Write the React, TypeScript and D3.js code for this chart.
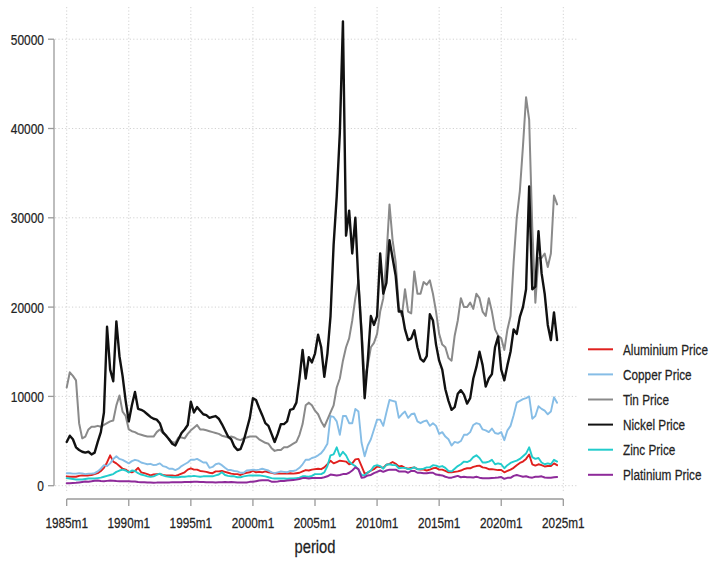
import React from "react";
import * as d3 from "d3";

// Quarterly observations (m1, m4, m7, m10) from 1985m1 to 2024m7
const startYear = 1985;

const aluminium = [
  1050, 1000, 1000, 1000, 1100, 1150, 1150, 1150, 1200, 1300, 1400, 1650,
  2000, 2600, 3400, 2700, 2500, 2200, 1900, 1800, 1550, 1500, 1650, 2000,
  1500, 1400, 1300, 1150, 1250, 1300, 1300, 1200, 1150, 1150, 1150, 1100,
  1200, 1350, 1500, 1800, 1950, 1800, 1800, 1650, 1600, 1550, 1450, 1400,
  1600, 1600, 1650, 1550, 1450, 1350, 1300, 1300, 1200, 1350, 1450, 1500,
  1650, 1500, 1550, 1500, 1600, 1500, 1450, 1350, 1400, 1350, 1350, 1350,
  1400, 1350, 1400, 1450, 1600, 1750, 1700, 1800, 1850, 1900, 1850, 2050,
  2400, 2800, 2500, 2650, 2800, 2750, 2700, 2400, 2500, 2950, 3000, 2200,
  1350, 1450, 1700, 1850, 2150, 2100, 2000, 2350, 2450, 2650, 2450, 2150,
  2200, 2000, 1900, 2000, 2050, 1850, 1800, 1800, 1700, 1800, 1950, 2000,
  1800, 1800, 1650, 1500, 1500, 1550, 1600, 1700, 1850, 1950, 1950, 2100,
  2200, 2250, 2050, 2000, 1850, 1850, 1800, 1750, 1750, 1500, 1650, 1800,
  2000, 2300, 2550, 2700, 3000, 3500, 2400, 2250, 2400, 2300, 2150, 2200,
  2200, 2500, 2300,
];

const copper = [
  1400, 1400, 1350, 1350, 1400, 1380, 1300, 1350, 1350, 1400, 1600, 1900,
  2300, 2200, 2500, 3000, 3300, 3000, 2900, 2700, 2500, 2750, 2900, 2800,
  2600, 2500, 2400, 2450, 2300, 2350, 2500, 2200, 2100, 1900, 1900, 1750,
  1900, 2200, 2400, 2600, 2900, 2900, 3000, 2800, 2600, 2600, 2000, 2100,
  2400, 2500, 2300, 2000, 1750, 1750, 1650, 1600, 1450, 1450, 1700, 1750,
  1800, 1750, 1800, 1900, 1800, 1700, 1500, 1400, 1500, 1600, 1550, 1500,
  1650, 1650, 1750, 2000, 2400, 2900, 2900, 3100, 3200, 3400, 3650, 4100,
  4700, 7800, 7700, 7200, 5700, 7800, 7800, 7000, 7000, 8600, 8300, 4800,
  3300, 4500, 5200, 6300, 7400, 7400, 6700, 8200, 9600, 9500, 9400, 7600,
  8000, 8300, 7600, 8000, 8100, 7200, 7000, 7200, 7300, 6700, 7000, 6700,
  5800, 6000, 5500, 5200, 4500, 4900, 4800, 5000, 5700, 5700, 6000, 6800,
  7000, 6900, 6300, 6200, 6000, 6400, 5900, 5800, 6000, 5100, 6200, 6700,
  7900, 9300, 9500, 9700, 9800, 10000, 7500, 7800, 8900, 8600, 8400, 8000,
  8300, 9900, 9300,
];

const tin = [
  11000, 12700, 12300, 11800, 7000, 5300, 5500, 6300, 6600, 6600, 6700, 6600,
  6800, 7000, 7200, 7300, 9000, 10100, 8300, 7800, 6300, 6100, 6000, 5800,
  5700, 5600, 5500, 5500, 5500, 6000, 6300, 5900, 5700, 5100, 4900, 4800,
  5400, 5400, 5300, 5800, 6200, 6500, 6800, 6300, 6300, 6200, 6100, 6000,
  5900, 5800, 5600, 5500, 5400, 5500, 5400, 5200, 5100, 5300, 5400, 5500,
  5500, 5500, 5200, 5000, 4800, 4700, 4200, 3900, 4000, 4000, 4300, 4300,
  4500, 4700, 4900, 5700, 6900, 9000, 9300, 9000, 8400, 8000, 7200, 6600,
  7400, 8200, 9000, 11000, 12000, 14000, 15500, 16500, 18500, 21000, 23000, 17500,
  12000, 13500, 15500, 16000, 17000, 19500, 21000, 25500, 31500, 27500, 25000, 20000,
  19000, 22000, 19500, 19300, 24000, 21500, 21500, 22800, 22500, 23000, 21500, 19500,
  17000, 15800, 15500, 14300, 14000, 16800, 18500, 21000, 20000, 20000, 20500, 19800,
  21500, 21000, 19500, 19000, 21000, 19500, 17500, 16800, 16500, 15200, 17500, 19000,
  25000, 30000, 33000, 38000, 43500, 41000, 29000, 20500, 25500, 25500, 26000, 24500,
  26000, 32500, 31500,
];

const nickel = [
  4900, 5600, 5200, 4300, 4000, 3800, 3700, 3800, 3500, 3700, 4900, 6000,
  8200, 17800, 13000, 11700, 18400, 14500, 12300, 9500, 7200, 9000, 10500, 8600,
  8500, 8300, 8000, 7700, 7500, 7400, 7000, 6000, 5600, 5200, 4700, 4500,
  5200, 5900, 6300, 6800, 9400, 8200, 8800, 8400, 8000, 7900, 7600, 7700,
  7800, 7500, 6900, 6200, 5500, 5200, 4400, 4000, 4100, 5000, 6300, 7600,
  9800, 9600, 8700, 7900, 7000, 6700, 5800, 4900, 5800, 6900, 6900, 7200,
  8500, 8600, 9300, 12000, 15200, 12000, 14400, 13800, 14800, 16900, 15500, 12200,
  14800, 19000, 27000, 32400, 39500, 52000, 28000, 30800, 26000, 30000, 22600, 17000,
  9800, 14000, 19000, 18000, 19000, 26000, 21500, 22700, 27500, 25500, 23500, 19500,
  19500, 17500, 16300, 16500, 17400, 15500, 14200, 13900, 14500, 19200, 18500, 15800,
  14000, 13000, 10800, 9500, 8500, 8800, 10300, 10700, 10200, 9200, 9800, 12000,
  13300, 15000, 13500, 11100, 12000, 12500, 15500, 16700, 13000, 11800, 13500, 15000,
  17500, 17000, 18900, 20000, 22000, 33500, 22000, 22300, 28500, 23800, 21500, 18000,
  16300, 19400, 16300,
];

const zinc = [
  850, 800, 750, 700, 700, 700, 750, 800, 800, 800, 850, 900,
  1000, 1100, 1200, 1300, 1550, 1700, 1800, 1700, 1500, 1700, 1650, 1400,
  1250, 1150, 1050, 1000, 1050, 1200, 1350, 1150, 1050, 1000, 950, 950,
  950, 1000, 1000, 1050, 1050, 1100, 1050, 1000, 1050, 1050, 1050, 1050,
  1150, 1250, 1500, 1200, 1100, 1050, 1050, 950, 950, 1050, 1100, 1150,
  1150, 1150, 1150, 1100, 1050, 950, 850, 800, 800, 800, 800, 780,
  800, 800, 850, 900, 1050, 1050, 1000, 1100, 1300, 1300, 1300, 1500,
  2200, 3400, 3500, 4300, 3300, 3800, 3400, 2700, 2400, 2200, 1800, 1200,
  1150, 1500, 1700, 2200, 2300, 2200, 1900, 2350, 2400, 2300, 2300, 1950,
  2000, 2000, 1850, 1900, 2050, 1850, 1850, 1900, 2050, 2050, 2300, 2250,
  2100, 2200, 2000, 1650, 1600, 1900, 2200, 2400, 2700, 2650, 2800, 3200,
  3400, 3100, 2600, 2600, 2700, 2900, 2400, 2500, 2400, 1950, 2300, 2550,
  2700, 2800, 3000, 3300, 3600, 4300, 3200, 3000, 3100, 2600, 2400, 2500,
  2400, 2900, 2700,
];

const platinium = [
  270, 280, 300, 320, 370, 420, 470, 450, 500, 560, 590, 520,
  490, 540, 580, 560, 520, 510, 490, 490, 510, 480, 480, 420,
  400, 390, 350, 350, 340, 350, 370, 350, 360, 370, 400, 380,
  380, 400, 410, 420, 410, 440, 430, 410, 420, 400, 390, 380,
  360, 380, 400, 420, 390, 410, 380, 350, 360, 360, 360, 430,
  440, 510, 570, 600, 610, 600, 450, 430, 470, 540, 530, 590,
  620, 650, 680, 750, 850, 850, 800, 860, 860, 870, 870, 940,
  1050, 1250, 1200, 1150, 1200, 1300, 1300, 1450, 1700, 2050, 1850, 900,
  950, 1150, 1200, 1400, 1550, 1700, 1550, 1700, 1800, 1800, 1800, 1600,
  1600, 1600, 1450, 1650, 1650, 1450, 1450, 1400, 1400, 1450, 1450, 1250,
  1200, 1150, 1000, 900, 900, 1000, 1100, 950, 1000, 950, 950, 930,
  1000, 900, 830, 830, 830, 870, 880, 910, 970, 770, 880, 880,
  1100, 1200, 1100, 1000, 1050, 950, 900, 1000, 1000, 1050, 920, 900,
  900, 950, 980,
];

const seriesNames = [
  "Aluminium Price",
  "Copper Price",
  "Tin Price",
  "Nickel Price",
  "Zinc Price",
  "Platinium Price",
];
const seriesValues = [aluminium, copper, tin, nickel, zinc, platinium];
const seriesColors = ["#e0201e", "#86bde6", "#8a8a8a", "#111111", "#22cccc", "#8e2a9a"];
const seriesWidths = [1.9, 1.9, 2.0, 2.4, 1.9, 2.0];

const xTickYears = [1985, 1990, 1995, 2000, 2005, 2010, 2015, 2020, 2025];
const xTickLabels = ["1985m1", "1990m1", "1995m1", "2000m1", "2005m1", "2010m1", "2015m1", "2020m1", "2025m1"];
const yTicks = [0, 10000, 20000, 30000, 40000, 50000];
const xAxisTitle = "period";

const W = 711;
const H = 567;
const FONT = "Liberation Sans, Arial, Helvetica, sans-serif";
const TEXT_FILL = "#222";

export default function App() {
  const x = d3.scaleLinear().domain([1985, 2025]).range([66.7, 563.3]);
  const y = d3.scaleLinear().domain([0, 50000]).range([485.7, 39.2]);

  const line = d3
    .line<number>()
    .x((_, i) => x(startYear + i / 4))
    .y((v) => y(v))
    .curve(d3.curveLinear);

  const gridLeft = 55;
  const gridRight = 577;
  const gridTop = 7;
  const gridBottom = 493;
  const yAxisX = 54;
  const xAxisY = 499;

  const legendX = 588;
  const legendY0 = 349.3;
  const legendStep = 25.1;

  const textStroke = { stroke: TEXT_FILL, strokeWidth: 0.25 };

  return (
    <svg
      width={W}
      height={H}
      style={{ position: "absolute", left: 0, top: 0, background: "#fff" }}
      fontFamily={FONT}
    >
      <rect x={0} y={0} width={W} height={H} fill="#fff" />
      {/* grid */}
      <g stroke="#d2d2d2" strokeWidth={1} strokeDasharray="1.2 2.2">
        {yTicks.map((t) => (
          <line key={"gy" + t} x1={gridLeft} x2={gridRight} y1={y(t)} y2={y(t)} />
        ))}
        {xTickYears.map((t) => (
          <line key={"gx" + t} x1={x(t)} x2={x(t)} y1={gridTop} y2={gridBottom} />
        ))}
      </g>

      {/* series */}
      <g fill="none" strokeLinejoin="round" strokeLinecap="round">
        {seriesValues.map((vals, k) => (
          <path
            key={seriesNames[k]}
            d={line(vals) || ""}
            stroke={seriesColors[k]}
            strokeWidth={seriesWidths[k]}
          />
        ))}
      </g>

      {/* y axis */}
      <g stroke="#9a9a9a" strokeWidth={1.3}>
        <line x1={yAxisX} x2={yAxisX} y1={y(0)} y2={y(50000)} />
        {yTicks.map((t) => (
          <line key={"yt" + t} x1={yAxisX - 6} x2={yAxisX} y1={y(t)} y2={y(t)} />
        ))}
      </g>
      {yTicks.map((t) => (
        <text
          key={"yl" + t}
          transform={`translate(44,${y(t) + 5.5}) scale(0.77,1)`}
          textAnchor="end"
          fontSize={15.5}
          fill={TEXT_FILL}
          {...textStroke}
        >
          {t}
        </text>
      ))}

      {/* x axis */}
      <g stroke="#9a9a9a" strokeWidth={1.3}>
        <line x1={x(1985)} x2={x(2025)} y1={xAxisY} y2={xAxisY} />
        {xTickYears.map((t) => (
          <line key={"xt" + t} x1={x(t)} x2={x(t)} y1={xAxisY} y2={xAxisY + 7} />
        ))}
      </g>
      {xTickYears.map((t, i) => (
        <text
          key={"xl" + t}
          transform={`translate(${x(t)},527.5) scale(0.76,1)`}
          textAnchor="middle"
          fontSize={15.5}
          fill={TEXT_FILL}
          {...textStroke}
        >
          {xTickLabels[i]}
        </text>
      ))}
      <text
        transform={`translate(${(x(1985) + x(2025)) / 2},553) scale(0.82,1)`}
        textAnchor="middle"
        fontSize={18}
        fill={TEXT_FILL}
        {...textStroke}
      >
        {xAxisTitle}
      </text>

      {/* legend */}
      {seriesNames.map((name, k) => (
        <g key={"lg" + name}>
          <line
            x1={legendX}
            x2={legendX + 25}
            y1={legendY0 + k * legendStep}
            y2={legendY0 + k * legendStep}
            stroke={seriesColors[k]}
            strokeWidth={2}
          />
          <text
            transform={`translate(${legendX + 35},${legendY0 + k * legendStep + 5.5}) scale(0.76,1)`}
            fontSize={15.5}
            fill={TEXT_FILL}
            {...textStroke}
          >
            {name}
          </text>
        </g>
      ))}
    </svg>
  );
}
